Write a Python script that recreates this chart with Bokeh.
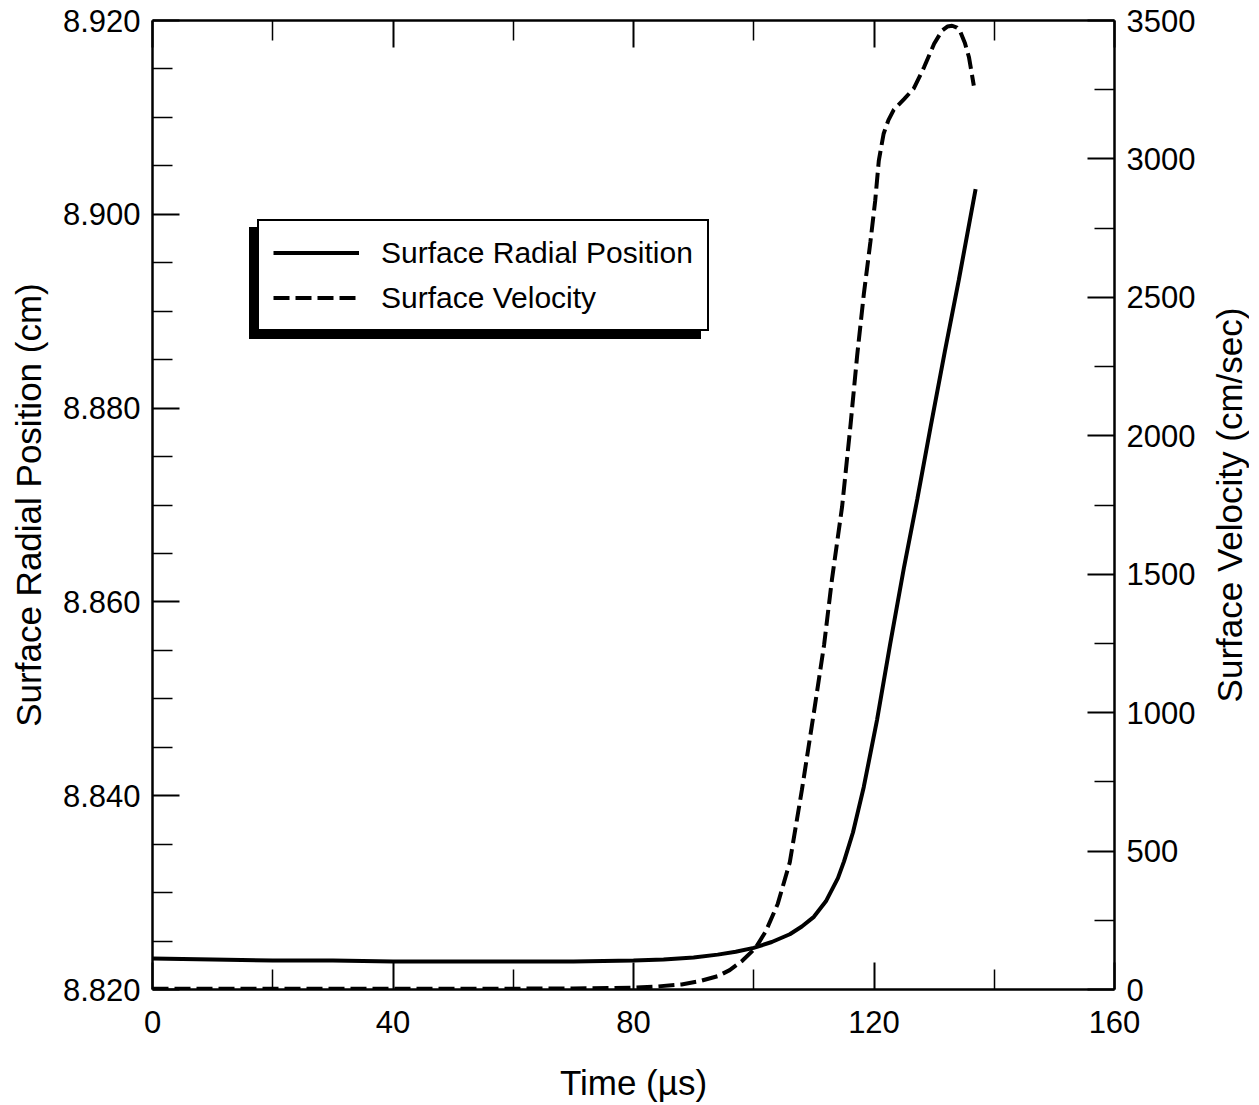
from bokeh.plotting import figure
from bokeh.layouts import row
from bokeh.models import (LinearAxis, Range1d, FixedTicker, PrintfTickFormatter,
                          Legend, LegendItem)
from bokeh.core.properties import value
from bokeh.embed import file_html
from bokeh.resources import INLINE

FONT = "Liberation Sans"

# ---------------- data ----------------
time_pos = [0, 10, 20, 30, 40, 50, 60, 70, 80, 85, 90, 94, 97, 100, 103, 106, 108,
            110, 112, 114, 115, 116.5, 118.3, 120.5, 122.7, 125, 127.2, 129.4,
            131.8, 134.1, 136.9]
radial_pos = [8.8232, 8.8231, 8.8230, 8.8230, 8.8229, 8.8229, 8.8229, 8.8229, 8.8230,
              8.8231, 8.8233, 8.8236, 8.8239, 8.8243, 8.8249, 8.8257, 8.8265,
              8.8275, 8.8291, 8.8315, 8.8332, 8.8362, 8.8409, 8.8478, 8.8557,
              8.8636, 8.8706, 8.8780, 8.8859, 8.8932, 8.9026]

time_vel = [0, 20, 40, 60, 70, 76, 80, 84, 88, 91, 94, 96, 98, 100.3, 102, 104, 106,
            108, 110, 111.7, 113, 114.7, 116.1, 117.2, 118.3, 119.4, 120.2, 120.8,
            121.6, 122.4, 123.3, 125, 126.6, 128.3, 130, 131.3, 132.2, 133, 133.8,
            134.4, 135.1, 135.8, 136.6]
velocity = [3, 3, 3, 3, 4, 5, 7, 11, 18, 30, 48, 70, 102, 150, 210, 310, 460,
            720, 1000, 1245, 1480, 1745, 2040, 2290, 2510, 2700, 2849, 2994,
            3091, 3140, 3178, 3216, 3254, 3330, 3416, 3463, 3478, 3481, 3474,
            3457, 3420, 3367, 3265]

x_major = [0, 40, 80, 120, 160]
x_minor = [20, 60, 100, 140]
pos_major = [8.82, 8.84, 8.86, 8.88, 8.90, 8.92]
pos_minor = [8.825, 8.830, 8.835, 8.845, 8.850, 8.855, 8.865, 8.870, 8.875,
             8.885, 8.890, 8.895, 8.905, 8.910, 8.915]
vel_major = [0, 500, 1000, 1500, 2000, 2500, 3000, 3500]
vel_minor = [250, 750, 1250, 1750, 2250, 2750, 3250]

label_pos = "Surface Radial Position"
label_vel = "Surface Velocity"
title_x = "Time (µs)"
title_y_left = "Surface Radial Position (cm)"
title_y_right = "Surface Velocity (cm/sec)"

# ---------------- main figure ----------------
p = figure(frame_width=962, frame_height=969,
           x_range=Range1d(0, 160), y_range=Range1d(8.82, 8.92),
           x_axis_type=None, y_axis_type=None,
           output_backend="svg", toolbar_location=None,
           min_border_left=152, min_border_right=86,
           min_border_top=20, min_border_bottom=112)
p.extra_y_ranges = {"vel": Range1d(0, 3500)}
p.outline_line_color = None
p.background_fill_color = "white"
p.border_fill_color = "white"


def style(ax, major, minor):
    ax.ticker = FixedTicker(ticks=major, minor_ticks=minor)
    ax.axis_line_width = 2.5
    ax.axis_line_color = "black"
    ax.major_tick_in = 27
    ax.major_tick_out = 0
    ax.minor_tick_in = 20
    ax.minor_tick_out = 0
    ax.major_tick_line_width = 2
    ax.minor_tick_line_width = 1.5
    ax.major_tick_line_color = "black"
    ax.minor_tick_line_color = "black"
    ax.major_label_text_font = FONT
    ax.major_label_text_font_size = "31px"
    ax.major_label_text_color = "black"
    ax.axis_label_text_font = FONT
    ax.axis_label_text_font_size = "35px"
    ax.axis_label_text_font_style = "normal"
    ax.axis_label_text_color = "black"


xb = LinearAxis(axis_label=title_x)
style(xb, x_major, x_minor)
xb.major_label_standoff = 21
xb.axis_label_standoff = 27
p.add_layout(xb, "below")

xt = LinearAxis()
style(xt, x_major, x_minor)
xt.major_label_text_font_size = "1px"
xt.major_label_text_color = None
xt.major_label_standoff = 0
p.add_layout(xt, "above")

yl = LinearAxis(axis_label=title_y_left,
                formatter=PrintfTickFormatter(format="%.3f"))
style(yl, pos_major, pos_minor)
yl.major_label_standoff = 12
yl.axis_label_standoff = 12
p.add_layout(yl, "left")

yr = LinearAxis(y_range_name="vel")
style(yr, vel_major, vel_minor)
yr.major_label_standoff = 12
p.add_layout(yr, "right")

r_pos = p.line(time_pos, radial_pos, line_color="black", line_width=4)
r_vel = p.line(time_vel, velocity, y_range_name="vel", line_color="black",
               line_width=4, line_dash="16 6")

common = dict(padding=14, spacing=10, glyph_width=86, glyph_height=35,
              label_height=35, label_width=312, label_standoff=22,
              label_text_font=FONT, label_text_font_size="30px", margin=0,
              border_line_color="black", border_line_width=2, border_line_alpha=1.0,
              background_fill_alpha=1.0, label_text_color="black")

shadow = Legend(items=[LegendItem(label=value(" "), renderers=[r_pos]),
                       LegendItem(label=value(" "), renderers=[r_vel])],
                location=(97, 650), background_fill_color="black", **common)
p.add_layout(shadow, "center")

legend = Legend(items=[LegendItem(label=value(label_pos), renderers=[r_pos]),
                       LegendItem(label=value(label_vel), renderers=[r_vel])],
                location=(105, 658), background_fill_color="white", **common)
p.add_layout(legend, "center")

# ---------------- narrow strip carrying the right-hand axis title ----------------
p2 = figure(frame_width=1, frame_height=969,
            x_range=Range1d(0, 1), y_range=Range1d(0, 3500),
            x_axis_type=None, y_axis_type=None,
            output_backend="svg", toolbar_location=None,
            min_border_left=48, min_border_right=0,
            min_border_top=20, min_border_bottom=112)
p2.outline_line_color = None
p2.background_fill_color = "white"
p2.border_fill_color = "white"
ya = LinearAxis(axis_label=title_y_right, ticker=FixedTicker(ticks=[]))
ya.axis_line_color = None
ya.major_tick_line_color = None
ya.minor_tick_line_color = None
ya.major_tick_in = 0
ya.major_tick_out = 0
ya.minor_tick_in = 0
ya.minor_tick_out = 0
ya.major_label_standoff = 0
ya.axis_label_standoff = 0
ya.axis_label_text_font = FONT
ya.axis_label_text_font_size = "35px"
ya.axis_label_text_font_style = "normal"
ya.axis_label_text_color = "black"
p2.add_layout(ya, "left")

open("out.html", "w").write(file_html(row(p, p2), INLINE))
